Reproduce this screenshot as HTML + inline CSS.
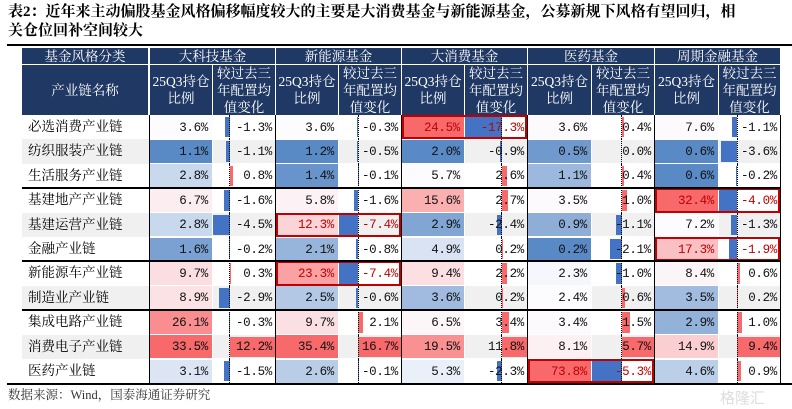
<!DOCTYPE html>
<html><head><meta charset="utf-8">
<style>
body{margin:0;background:#fff;width:792px;height:409px;overflow:hidden;position:relative;font-family:"Liberation Serif","Noto Serif CJK SC",serif;}
.a{position:absolute;box-sizing:border-box;}
.t{font-size:12.5px;line-height:24px;white-space:nowrap;font-family:"Liberation Mono","Noto Serif CJK SC",monospace;letter-spacing:-0.3px;}
.h{background:#203864;color:#fff;font-size:13.5px;text-align:center;display:flex;align-items:center;justify-content:center;line-height:17px;}
</style></head><body>
<div class="a" style="left:8px;top:3px;width:790px;font-size:15px;font-weight:bold;line-height:19px;color:#000;white-space:nowrap;">表2：近年来主动偏股基金风格偏移幅度较大的主要是大消费基金与新能源基金，公募新规下风格有望回归，相<br>关仓位回补空间较大</div>
<div class="a" style="left:7px;top:44px;width:785px;height:2px;background:#000;"></div>
<div id="tbl"></div>
<div class="a" style="left:7px;top:383px;width:785px;height:2px;background:#000;"></div>
<div class="a" style="left:8px;top:386px;font-size:12.5px;line-height:18px;color:#333;">数据来源：Wind，国泰海通证券研究</div>
<div class="a" style="left:720px;top:387px;font-size:15px;color:#ddd;font-family:'Liberation Sans','Noto Sans CJK SC',sans-serif;">格隆汇</div>
<script>
const rowLabels=["必选消费产业链","纺织服装产业链","生活服务产业链","基建地产产业链","基建运营产业链","金融产业链","新能源车产业链","制造业产业链","集成电路产业链","消费电子产业链","医药产业链"];
const fundNames=["大科技基金","新能源基金","大消费基金","医药基金","周期金融基金"];
const holdTech=[3.6,1.1,2.8,6.7,2.8,1.6,9.7,8.9,26.1,33.5,3.1];
const chgTech=[-1.3,-1.1,0.8,-1.6,-4.5,-0.2,0.3,-2.9,-0.3,12.2,-1.5];
const holdNE=[3.6,1.2,1.4,5.8,12.3,2.1,23.3,2.5,9.7,35.4,2.6];
const chgNE=[-0.3,-0.5,-0.1,-1.6,-7.4,-0.8,-7.4,-0.6,2.1,16.7,-0.1];
const holdCons=[24.5,2.0,5.7,15.6,2.9,4.9,9.4,3.6,6.5,19.5,5.3];
const chgCons=[-17.3,-0.9,2.6,2.7,-2.4,0.2,2.2,0.2,3.4,11.8,-2.3];
const holdMed=[3.6,0.5,1.1,3.5,0.9,0.2,2.3,2.4,3.4,8.1,73.8];
const chgMed=[0.4,0.0,0.4,1.0,-1.1,-2.1,-1.0,0.6,1.5,5.7,-5.3];
const holdCyc=[7.6,0.6,0.6,32.4,7.2,17.3,8.4,3.5,2.9,14.9,4.6];
const chgCyc=[-1.1,-3.6,-0.2,-4.0,-1.3,-1.9,0.6,0.2,1.0,9.4,0.9];
const highlights=[[2,0],[1,4],[1,6],[4,3],[4,5],[3,10]]; // [fund index,row index]
const holds=[holdTech,holdNE,holdCons,holdMed,holdCyc];
const chgs=[chgTech,chgNE,chgCons,chgMed,chgCyc];

const T=document.getElementById('tbl');
function box(name,x,y,w,h,style,txt){const d=document.createElement('div');d.className='a';


d.style.cssText=`left:${x}px;top:${y}px;width:${w}px;height:${h}px;`+(style||'');if(txt!==undefined)d.innerHTML=txt;T.appendChild(d);return d;}
const gx=[149,275,401,527,654,780], sx=[212,338,464,591,718];
const top0=115, rh=24.4;
const lerp=(a,b,t)=>Math.round(a+(b-a)*t);
function mix(c1,c2,t){return `rgb(${lerp(c1[0],c2[0],t)},${lerp(c1[1],c2[1],t)},${lerp(c1[2],c2[2],t)})`;}
function heat(v,arr){const s=[...arr].sort((a,b)=>a-b);const mn=s[0],mx=s[s.length-1],md=s[Math.floor(s.length/2)];
const B=[90,138,198],W=[252,252,255],R=[248,105,107];
if(v<=md)return mix(B,W,md===mn?1:(v-mn)/(md-mn));return mix(W,R,(v-md)/(mx-md));}
box('header-category',22,48,126,16,'','<div class="h" style="width:100%;height:100%">基金风格分类</div>');
box('header-chain-name',22,65,126,50,'','<div class="h" style="width:100%;height:100%">产业链名称</div>');
fundNames.forEach((f,i)=>{
 box('header-fund-'+i,gx[i]+1,48,gx[i+1]-gx[i]-1,16,'','<div class="h" style="width:100%;height:100%">'+f+'</div>');
 box('header-holding-'+i,gx[i]+1,65,sx[i]-gx[i]-1,50,'','<div class="h" style="width:100%;height:100%">25Q3持仓<br>比例</div>');
 box('header-change-'+i,sx[i]+1,65,gx[i+1]-sx[i]-1,50,'','<div class="h" style="width:100%;height:100%">较过去三<br>年配置均<br>值变化</div>');
});
rowLabels.forEach((lab,r)=>{
 const y=top0+r*rh, gray=(r===1||r===4||r===7||r===9);
 box('row-label-'+r,22,y,127,rh,`background:${gray?'#f0f0f0':'#fff'};padding-left:6px;font-size:13.5px;line-height:24px;`,lab);
 fundNames.forEach((f,i)=>{
  const hv=holds[i][r], cv=chgs[i][r];
  const hl=highlights.some(p=>p[0]===i&&p[1]===r);
  const col=hl?'#c00000':'#111';
  box('holding-cell-'+i+'-'+r,gx[i]+1,y+0.5,sx[i]-gx[i]-1,rh-1,`background:${heat(hv,holds[i])};text-align:right;padding-right:4px;color:${col};`,hv.toFixed(1)+'%').classList.add('t');
  const cw=gx[i+1]-sx[i]-1, arr=chgs[i], mn=Math.min(...arr), mx=Math.max(...arr);
  const sc=cw/(mx-mn), ax=sx[i]+1+(-mn)*sc;
  box('change-bg-'+i+'-'+r,sx[i]+1,y+0.5,cw,rh-1,`background:${gray?'#f0f0f0':'#fff'};`);
  const bw=Math.abs(cv)*sc;
  box('change-bar-'+i+'-'+r,cv<0?ax-bw:ax,y+2,bw,rh-4,`background:${cv<0?'#4472c4':'#f8696b'};`);
  box('change-axis-'+i+'-'+r,ax-0.5,y,0,rh,'border-left:1.5px dotted #000;');
  box('change-text-'+i+'-'+r,sx[i]+1,y+0.5,cw,rh-1,`text-align:right;padding-right:3px;color:${col};`,cv.toFixed(1)+'%').classList.add('t');
  if(hl) box('highlight-box-'+i+'-'+r,gx[i]+1,y,gx[i+1]-gx[i]-1,rh,'border:2px solid #c00000;');
 });
});
gx.forEach((x,i)=>box('col-sep-'+i,x-0.5,top0,1.3,rh*11,'background:#000;'));
[3,6,8].forEach(r=>box('group-sep-'+r,22,top0+r*rh-1,758,2,'background:#000;'));
</script>
</body></html>
